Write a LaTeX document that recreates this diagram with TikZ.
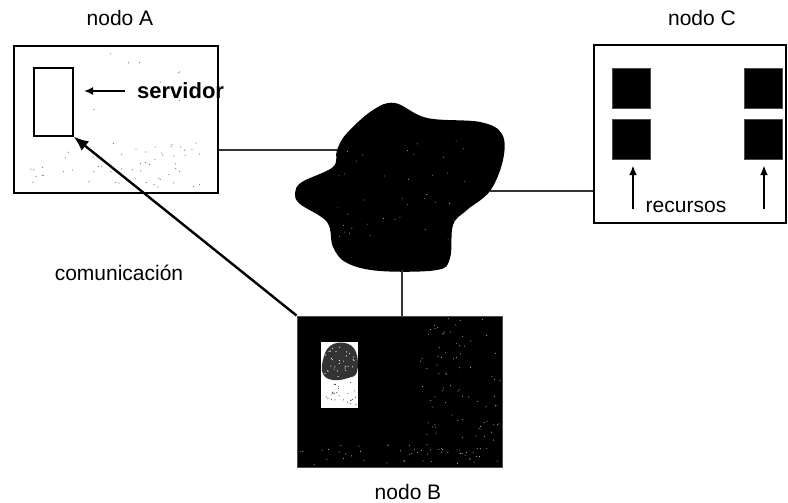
\documentclass[tikz,border=0pt]{standalone}
\usepackage{fontspec}
\setmainfont{Liberation Sans}
\usetikzlibrary{arrows.meta}
\begin{document}
\begin{tikzpicture}[x=1pt,y=-1pt,
  lbl/.style={font=\fontsize{21}{25}\selectfont, inner sep=0pt},
  boxw/.style={draw=black, line width=1.3pt, fill=white, inner sep=0pt},
  sq/.style={draw=black!70, fill=black, minimum width=38pt, minimum height=40pt, inner sep=0pt},
  conn/.style={draw=black!80, line width=1.2pt},
  uparr/.style={line width=2.2pt, -{Latex[length=10pt,width=8pt]}, shorten >=6pt}
]
\useasboundingbox (0,0) rectangle (788,503);
% node A
\node[lbl] (labA) at (120,18) {nodo A};
\node[boxw, minimum width=204pt, minimum height=147pt] (A) at (116,119.5) {};
\pgfmathsetseed{7}
\foreach \i in {1,...,45}{
  \fill[black!55] (150+rand*60, 165+rand*22) circle (0.6pt);
}
\foreach \i in {1,...,12}{
  \fill[black!55] (60+rand*35, 168+rand*16) circle (0.6pt);
}
\foreach \i in {1,...,10}{
  \fill[black!55] (150+rand*60, 80+rand*30) circle (0.6pt);
}
\node[draw=black, line width=1.1pt, fill=white, minimum width=39pt, minimum height=68pt, inner sep=0pt] (srv) at (53.5,102) {};
\node[lbl, font=\fontsize{22}{26}\selectfont\bfseries, anchor=west] (servl) at (137,91) {servidor};
\draw[line width=2.2pt, -{Latex[length=9pt,width=8pt]}] (servl.west) ++(-12,0) coordinate (sa) -- (sa -| 84,0);

% cloud
\coordinate (cloudW) at (337,150);
\coordinate (cloudE) at (490,191);
\coordinate (cloudS) at (402,270);
\fill[black] plot[smooth cycle, tension=0.6] coordinates {
 (395,103) (427,118) (480,122) (502,134) (503,160) (490,191) (467,210)
 (453,225) (450,258) (437,270) (380,271) (347,263) (333,247) (327,222)
 (300,204) (295,193) (302,182) (333,167) (337,150) (347,133) (373,110)};
\foreach \i in {1,...,40}{
  \fill[white] (400+rand*70, 190+rand*50) circle (0.4pt);
}

% node C
\node[lbl] (labC) at (702,18) {nodo C};
\node[boxw, minimum width=192pt, minimum height=178pt] (C) at (690,134) {};
\node[sq] (c1) at (631,88) {};
\node[sq] (c2) at (631,139) {};
\node[sq] (c3) at (763,88) {};
\node[sq] (c4) at (763,139) {};
\node[lbl] (rec) at (686,207) {recursos};
\coordinate (r1) at (633,209);
\coordinate (r2) at (764,209);
\draw[uparr] (r1) -- (r1 |- c2.south);
\draw[uparr] (r2) -- (r2 |- c4.south);

% node B
\node[draw=black!70, line width=1pt, fill=black, minimum width=205pt, minimum height=151pt, inner sep=0pt] (B) at (399.5,391.5) {};
\foreach \i in {1,...,90}{
  \fill[white!80!black] (460+rand*40, 390+rand*72) circle (0.5pt);
}
\foreach \i in {1,...,40}{
  \fill[white!80!black] (400+rand*100, 455+rand*10) circle (0.5pt);
}
\node[fill=white, minimum width=37pt, minimum height=66pt, inner sep=0pt] (bin) at (339.5,375) {};
\fill[black!80] plot[smooth cycle, tension=0.7] coordinates {(323,360) (330,346) (345,343) (356,352) (357,372) (348,378) (333,380) (323,374)};
\foreach \i in {1,...,30}{
  \fill[white] (340+rand*15, 362+rand*15) circle (0.6pt);
}
\foreach \i in {1,...,25}{
  \fill[black!70] (340+rand*16, 394+rand*12) circle (0.6pt);
}
\node[lbl] (labB) at (408,492) {nodo B};

% connectors
\draw[conn] (A.east |- cloudW) -- (cloudW);
\draw[conn] (cloudE) -- (cloudE -| C.west);
\draw[conn] (cloudS) -- (cloudS |- B.north);
\draw[line width=2.4pt, -{Latex[length=15pt,width=12pt]}] (B.north west) -- (srv.south east);
\node[lbl] (com) at (119,273) {comunicación};
\end{tikzpicture}
\end{document}
